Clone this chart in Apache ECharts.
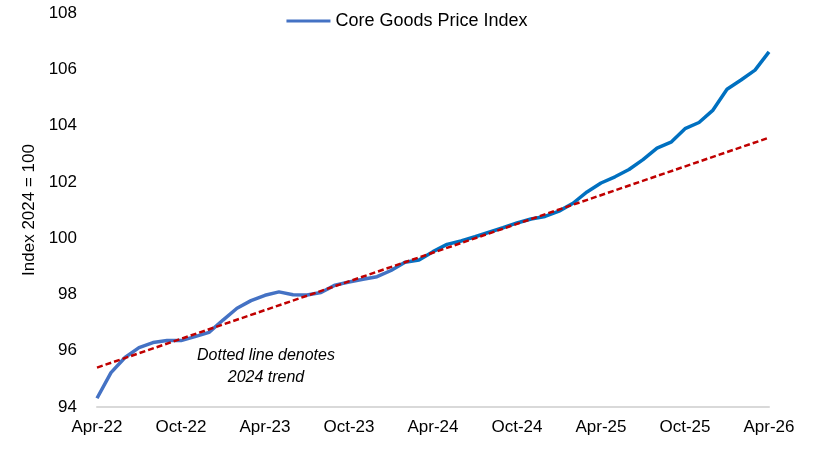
<!doctype html>
<html>
<head>
<meta charset="utf-8">
<script src="https://cdn.jsdelivr.net/npm/echarts@6/dist/echarts.min.js"></script>
<style>
    html, body {margin: 0;padding: 0;background: #fff;}
    #chart {width: 814px;height: 450px;}
</style>
</head>
<body>
<div id="chart"></div>
<script>
    // months Apr-22 .. Apr-26
    var months = ['Apr-22', 'May-22', 'Jun-22', 'Jul-22', 'Aug-22', 'Sep-22', 'Oct-22', 'Nov-22', 'Dec-22',
        'Jan-23', 'Feb-23', 'Mar-23', 'Apr-23', 'May-23', 'Jun-23', 'Jul-23', 'Aug-23', 'Sep-23', 'Oct-23',
        'Nov-23', 'Dec-23', 'Jan-24', 'Feb-24', 'Mar-24', 'Apr-24', 'May-24', 'Jun-24', 'Jul-24', 'Aug-24',
        'Sep-24', 'Oct-24', 'Nov-24', 'Dec-24', 'Jan-25', 'Feb-25', 'Mar-25', 'Apr-25', 'May-25', 'Jun-25',
        'Jul-25', 'Aug-25', 'Sep-25', 'Oct-25', 'Nov-25', 'Dec-25', 'Jan-26', 'Feb-26', 'Mar-26', 'Apr-26'];

    var coreGoods = [94.31, 95.22, 95.76, 96.11, 96.29, 96.36, 96.36, 96.50, 96.65,
        97.09, 97.51, 97.78, 97.97, 98.09, 97.99, 97.98, 98.07, 98.33, 98.44,
        98.54, 98.63, 98.85, 99.14, 99.22, 99.52, 99.78, 99.90, 100.05, 100.21,
        100.37, 100.54, 100.68, 100.77, 100.96, 101.24, 101.64, 101.96, 102.18, 102.44,
        102.79, 103.20, 103.41, 103.89, 104.11, 104.55, 105.29, 105.62, 105.97, 106.62];

    // 2024 trend: straight line, only the two ends are given
    var trendStart = 95.40, trendEnd = 103.57;
    var trend = months.map(function (m, i) {
        if (i === 0) return trendStart;
        if (i === months.length - 1) return trendEnd;
        return null;
    });

    var yTicks = {min: 94, max: 108, step: 2};
    var note = ['Dotted line denotes', '2024 trend'];

    var FONT = "'Liberation Sans', Arial, sans-serif";

    var myChart = echarts.init(document.getElementById('chart'), null, {renderer: 'canvas'});

    var option = {
        animation: false,
        textStyle: {fontFamily: FONT},
        grid: {left: 97, right: 45, top: 13, bottom: 43, containLabel: false},
        legend: {
            top: 7,
            left: 'center',
            itemWidth: 44,
            itemHeight: 12,
            textStyle: {fontFamily: FONT, fontSize: 18, color: '#000'},
            data: [{name: 'Core Goods Price Index', icon: 'path://M0,5 L44,5 L44,8 L0,8 Z', itemStyle: {color: '#4472C4'}}]
        },
        xAxis: {
            type: 'category',
            data: months,
            boundaryGap: false,
            axisLine: {lineStyle: {color: '#D9D9D9', width: 2}},
            axisTick: {show: false},
            axisLabel: {
                interval: 5,
                color: '#000',
                fontFamily: FONT,
                fontSize: 17,
                margin: 12
            },
            splitLine: {show: false}
        },
        yAxis: {
            type: 'value',
            min: yTicks.min,
            max: yTicks.max,
            interval: yTicks.step,
            name: 'Index 2024 = 100',
            nameLocation: 'middle',
            nameGap: 42,
            nameTextStyle: {fontFamily: FONT, fontSize: 17, color: '#000'},
            axisLine: {show: false},
            axisTick: {show: false},
            splitLine: {show: false},
            axisLabel: {color: '#000', fontFamily: FONT, fontSize: 17, margin: 20}
        },
        series: [
            {
                name: 'Core Goods Price Index',
                type: 'line',
                data: coreGoods,
                symbol: 'none',
                z: 2,
                lineStyle: {
                    width: 3.5,
                    color: new echarts.graphic.LinearGradient(0, 0, 1, 0, [
                        {offset: 0, color: '#4472C4'},
                        {offset: 0.43, color: '#4472C4'},
                        {offset: 0.48, color: '#0070C0'},
                        {offset: 1, color: '#0070C0'}
                    ])
                },
                itemStyle: {color: '#4472C4'}
            },
            {
                name: '2024 trend',
                type: 'line',
                data: trend,
                connectNulls: true,
                symbol: 'none',
                z: 3,
                lineStyle: {width: 2.5, color: '#C00000', type: [6, 3]}
            }
        ],
        graphic: [
            {
                type: 'text',
                x: 266,
                y: 367,
                style: {
                    text: note.join('\n'),
                    align: 'center',
                    verticalAlign: 'middle',
                    font: 'italic 16px ' + FONT,
                    fill: '#000',
                    lineHeight: 22
                }
            }
        ]
    };

    myChart.setOption(option);
</script>
</body>
</html>
